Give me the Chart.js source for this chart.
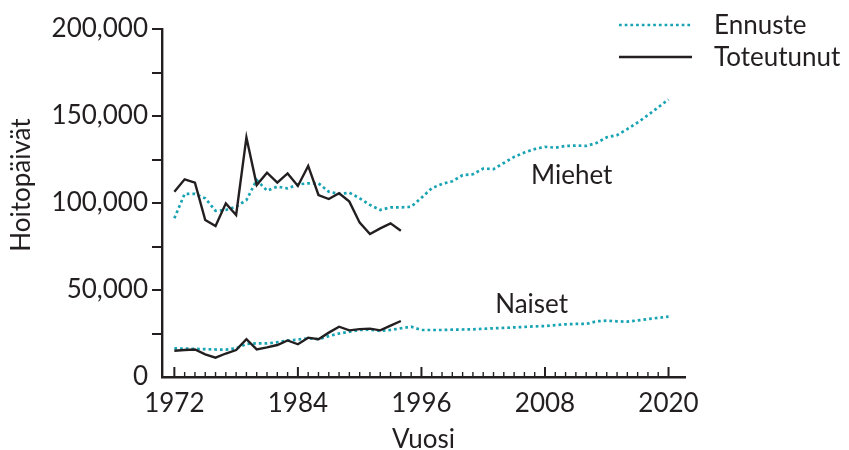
<!DOCTYPE html>
<html>
<head>
<meta charset="utf-8">
<script src="https://cdn.jsdelivr.net/npm/chart.js@4"></script>
<style>
  html, body { margin: 0; padding: 0; background: #fff; }
  #wrap { position: relative; width: 849px; height: 450px; }
</style>
</head>
<body>
<div id="wrap"><canvas id="hoitoChart"></canvas></div>
<script>
// Hoitopäivät — ennuste vs. toteutunut

var forecastYears = [1972, 1973, 1974, 1975, 1976, 1977, 1978, 1979, 1980, 1981, 1982, 1983, 1984, 1985, 1986, 1987,
  1988, 1989, 1990, 1991, 1992, 1993, 1994, 1995, 1996, 1997, 1998, 1999, 2000, 2001, 2002, 2003, 2004,
  2005, 2006, 2007, 2008, 2009, 2010, 2011, 2012, 2013, 2014, 2015, 2016, 2017, 2018, 2019, 2020];
var menForecast = [91200, 105200, 105200, 102700, 95500, 96000, 97900, 101700, 113200, 107100, 109400, 108400, 110700,
  111300, 111300, 106500, 105200, 105900, 102700, 98900, 96000, 97500, 97500, 97800, 103000, 108500, 111000,
  112500, 116000, 116500, 119800, 119500, 123000, 126500, 129000, 131000, 132300, 131800, 132800, 133000,
  132800, 134500, 137800, 139000, 142500, 146300, 150500, 155000, 159500];
var womenForecast = [16500, 16300, 16200, 16000, 15800, 15700, 16500, 19000, 19300, 19300, 20000, 20900, 21500,
  22200, 21700, 23500, 25000, 26000, 27000, 27200, 26500, 27000, 28000, 28900, 27000, 27000, 27000, 27200,
  27300, 27400, 27700, 28000, 28200, 28500, 28800, 29100, 29300, 29800, 30300, 30500, 30500, 32000, 32400,
  32000, 31800, 32500, 33300, 34000, 34700];

var actualYears = [1972, 1973, 1974, 1975, 1976, 1977, 1978, 1979, 1980, 1981, 1982, 1983, 1984, 1985, 1986, 1987,
  1988, 1989, 1990, 1991, 1992, 1993, 1994];
var menActual = [106500, 113600, 111700, 90200, 86800, 99800, 93100, 137700, 110300, 117400, 111700, 117000, 109800,
  121300, 104600, 102300, 105600, 100800, 88700, 82200, 85400, 88300, 84100];
var womenActual = [15100, 15500, 15800, 13000, 11100, 13500, 15500, 21700, 15900, 17000, 18400, 21000, 18800,
  22600, 21700, 25500, 28900, 26800, 27500, 27800, 26800, 29500, 32200];

var xTickYears = [1972, 1984, 1996, 2008, 2020];
var yTickValues = [0, 25000, 50000, 75000, 100000, 125000, 150000, 175000, 200000];
var yLabelValues = [0, 50000, 100000, 150000, 200000];

var seriesNotes = [
  { text: 'Miehet', x: 2010.6, y: 115500 },
  { text: 'Naiset', x: 2006.7, y: 41500 }
];

var INK = '#231f20';
var TEAL = '#17a3b3';
var FONT = 'Lato, "Open Sans", sans-serif';

function pairs(xs, ys) {
  return xs.map(function(x, i) { return { x: x, y: ys[i] }; });
}

var forecastStyle = { borderColor: TEAL, borderWidth: 2.7, borderDash: [2.7, 3], borderCapStyle: 'butt',
  pointRadius: 0, tension: 0, fill: false, order: 1 };
var actualStyle = { borderColor: INK, borderWidth: 2.4, pointRadius: 0, tension: 0, fill: false, order: 0,
  borderJoinStyle: 'miter' };

var decorPlugin = {
  id: 'decor',
  afterDraw: function(chart) {
    var ctx = chart.ctx, xs = chart.scales.x, ys = chart.scales.y, area = chart.chartArea;
    ctx.save();

    // year ticks pointing into the plot
    ctx.strokeStyle = INK;
    forecastYears.forEach(function(yr) {
      var major = xTickYears.indexOf(yr) >= 0;
      var px = xs.getPixelForValue(yr);
      ctx.lineWidth = major ? 2 : 1.4;
      ctx.beginPath();
      ctx.moveTo(px, area.bottom);
      ctx.lineTo(px, area.bottom - (major ? 10 : 5));
      ctx.stroke();
    });

    ctx.fillStyle = INK;
    ctx.font = '26px ' + FONT;
    ctx.textAlign = 'center';
    ctx.textBaseline = 'middle';
    seriesNotes.forEach(function(n) {
      ctx.fillText(n.text, xs.getPixelForValue(n.x), ys.getPixelForValue(n.y));
    });

    // axis titles
    ctx.fillText('Vuosi', (area.left + area.right) / 2, 440);
    ctx.save();
    ctx.translate(22, 185);
    ctx.rotate(-Math.PI / 2);
    ctx.fillText('Hoitopäivät', 0, 0);
    ctx.restore();

    // legend
    var items = [chart.data.datasets[0], chart.data.datasets[2]];
    items.forEach(function(ds, i) {
      var ly = 25 + i * 32;
      ctx.strokeStyle = ds.borderColor;
      ctx.lineWidth = ds.borderWidth;
      ctx.lineCap = 'butt';
      ctx.setLineDash(ds.borderDash || []);
      ctx.beginPath();
      ctx.moveTo(619, ly);
      ctx.lineTo(692, ly);
      ctx.stroke();
      ctx.setLineDash([]);
      ctx.textAlign = 'left';
      ctx.fillText(ds.label, 714, ly + 1);
    });

    ctx.restore();
  }
};

new Chart(document.getElementById('hoitoChart').getContext('2d'), {
  type: 'line',
  data: {
    datasets: [
      Object.assign({ label: 'Ennuste', data: pairs(forecastYears, menForecast) }, forecastStyle),
      Object.assign({ label: 'Ennuste', data: pairs(forecastYears, womenForecast) }, forecastStyle),
      Object.assign({ label: 'Toteutunut', data: pairs(actualYears, menActual) }, actualStyle),
      Object.assign({ label: 'Toteutunut', data: pairs(actualYears, womenActual) }, actualStyle)
    ]
  },
  options: {
    responsive: true,
    maintainAspectRatio: false,
    animation: false,
    layout: { padding: { top: 29, right: 164, bottom: 0, left: 0 } },
    plugins: { legend: { display: false }, tooltip: { enabled: false } },
    scales: {
      x: {
        type: 'linear',
        min: 1970.8,
        max: 2021.6,
        afterBuildTicks: function(scale) { scale.ticks = xTickYears.map(function(v) { return { value: v }; }); },
        afterFit: function(scale) { scale.height = 73; },
        grid: { display: false, drawTicks: false },
        border: { display: true, color: INK, width: 2.4 },
        ticks: { color: INK, font: { family: FONT, size: 26 }, padding: 11, maxRotation: 0, autoSkip: false,
          callback: function(v) { return String(v); } }
      },
      y: {
        min: 0,
        max: 200000,
        afterBuildTicks: function(scale) { scale.ticks = yTickValues.map(function(v) { return { value: v }; }); },
        afterFit: function(scale) { scale.width = 162; },
        grid: {
          drawOnChartArea: false,
          drawTicks: true,
          tickLength: 10,
          lineWidth: 2,
          color: function(c) { return c.tick && c.tick.value === 0 ? 'rgba(0,0,0,0)' : INK; }
        },
        border: { display: true, color: INK, width: 2.4 },
        ticks: { color: INK, font: { family: FONT, size: 26 }, padding: 4, autoSkip: false,
          callback: function(v) { return yLabelValues.indexOf(v) >= 0 ? v.toLocaleString('en-US') : ''; } }
      }
    }
  },
  plugins: [decorPlugin]
});
</script>
</body>
</html>
